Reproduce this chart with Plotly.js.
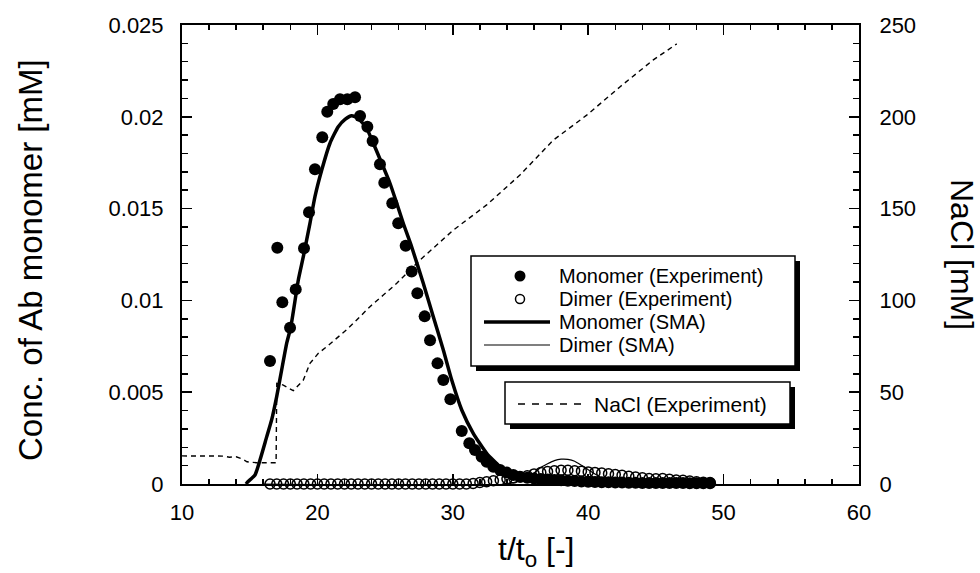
<!DOCTYPE html>
<html>
<head>
<meta charset="utf-8">
<script src="https://cdn.plot.ly/plotly-3.0.1.min.js"></script>
<style>html,body{margin:0;padding:0;background:#fff;}#chart{width:980px;height:573px;}</style>
</head>
<body>
<div id="chart"></div>
<script>
// ---- Data ----
// Monomer (Experiment): filled circles
const monoExpX = [16.50,17.04,17.41,17.98,18.40,19.01,19.38,19.82,20.36,20.73,21.17,21.67,22.21,22.78,23.15,23.69,24.08,24.62,24.94,25.53,25.97,26.52,26.96,27.38,27.92,28.32,28.87,29.30,29.82,30.66,31.22,31.64,32.13,32.50,32.99,33.49,33.98,34.47,34.96,35.5,36,36.5,37,37.5,38,38.5,39,39.5,40,40.5,41,41.5,42,42.5,43,43.5,44,44.5,45,45.5,46,46.5,47,47.5,48,48.5,49];
const monoExpY = [0.00670,0.01287,0.00990,0.00851,0.01060,0.01284,0.01480,0.01714,0.01888,0.02028,0.02070,0.02095,0.02095,0.02106,0.02004,0.01946,0.01868,0.01741,0.01641,0.01529,0.01420,0.01298,0.01157,0.01039,0.00913,0.00783,0.00657,0.00566,0.00461,0.00289,0.00222,0.00185,0.00149,0.00121,0.00094,0.00076,0.00062,0.00049,0.00040,0.00034,0.00030,0.00027,0.00025,0.00022,0.00020,0.00018,0.00016,0.00014,0.00012,0.00011,0.00010,0.00009,0.00008,0.00008,0.00007,0.00007,0.00006,0.00006,0.00006,0.00005,0.00005,0.00005,0.00005,0.00004,0.00004,0.00004,0.00004];

// Dimer (Experiment): open circles
const dimExpX = [16.5,17,17.5,18,18.5,19,19.5,20,20.5,21,21.5,22,22.5,23,23.5,24,24.5,25,25.5,26,26.5,27,27.5,28,28.5,29,29.5,30,30.5,31,31.5,32,32.5,33,33.5,34,34.5,35,35.5,36,36.5,37,37.5,38,38.5,39,39.5,40,40.5,41,41.5,42,42.5,43,43.5,44,44.5,45,45.5,46,46.5,47,47.5,48,48.5,49];
const dimExpY = [0,0,0,0,0,0,0,0,0,0,0,0,0,0,0,0,0,0,0,0,0,0,0,0,0,0,0,0,0,0,0.00003,0.00008,0.00012,0.00018,0.00022,0.00028,0.00033,0.00038,0.00045,0.00055,0.00062,0.00068,0.00072,0.00075,0.00075,0.00072,0.00070,0.00066,0.00063,0.00060,0.00056,0.00052,0.00047,0.00042,0.00038,0.00034,0.00030,0.00028,0.00030,0.00026,0.00022,0.00020,0.00016,0.00012,0.00010,0.00008];

// Monomer (SMA): thick line
const monoSmaX = [14.73,14.82,15.39,15.76,16.26,16.62,16.99,17.36,17.73,18.03,18.59,18.96,19.45,19.82,20.32,20.93,21.54,22.04,22.53,23.02,23.64,24.13,24.75,25.36,25.86,26.34,26.96,27.82,28.56,29.30,29.92,30.66,31.51,32.50,33.49,34.47,35.46,36.5,38,40,45,49];
const monoSmaY = [0,0.00009,0.00049,0.00131,0.00258,0.00349,0.00475,0.00621,0.00766,0.00853,0.01111,0.01238,0.01420,0.01565,0.01710,0.01856,0.01946,0.01986,0.02006,0.01992,0.01937,0.01856,0.01747,0.01638,0.01529,0.01420,0.01292,0.01093,0.00911,0.00730,0.00566,0.00403,0.00276,0.00167,0.00094,0.00049,0.00022,0.00010,0.00004,0.00001,0,0];

// Dimer (SMA): thin line
const dimSmaX = [16,34,35,36,36.5,37,37.5,38,38.5,39,39.5,40,40.5,41,42,43,44,49];
const dimSmaY = [0,0,0.0002,0.0006,0.0009,0.0011,0.00127,0.00135,0.00134,0.00124,0.00102,0.00078,0.00055,0.00035,0.00012,0.00004,0,0];

// NaCl (Experiment): dashed line, right axis [mM]
const naclX = [10,11,12,13,13.5,14,14.5,14.8,15.5,16.95,17.0,17.48,18.22,18.96,19.45,20.07,20.69,21.43,22.16,22.9,23.88,24.87,25.86,26.6,27.58,30.04,32.5,34.96,37.42,39.89,42.36,44.81,46.54];
const naclY = [15.3,15.2,15.0,15.2,14.6,14.8,13.5,12.1,11.6,11.6,54.8,53.9,50.8,56.6,65.7,71.2,74.8,79.4,84.0,89.3,96.6,102.9,109.3,114.8,122.0,138.3,152.0,168.3,187.3,200.9,216.4,231.0,239.7];

// Legend labels and axis texts
const legendLabels = ['Monomer (Experiment)','Dimer (Experiment)','Monomer (SMA)','Dimer (SMA)'];
const legend2Label = 'NaCl (Experiment)';
const yTitle = 'Conc. of Ab monomer [mM]';
const y2Title = 'NaCl [mM]';
const xTitle = 't/t<sub>o</sub> [-]';

// ---- Layout geometry (pixels) ----
const W = 980, H = 573;
const L = 182, R = 859, T = 25, B = 484;
const X = px => (px - L) / (R - L);
const Y = py => (B - py) / (B - T);
const FONT = '"Liberation Sans", Arial, Helvetica, sans-serif';

const traces = [
  {x: naclX, y: naclY, yaxis: 'y2', mode: 'lines', name: legend2Label,
   line: {color: '#000', width: 1.4, dash: '5px,4px'}, showlegend: false},
  {x: monoSmaX, y: monoSmaY, mode: 'lines', name: legendLabels[2],
   line: {color: '#000', width: 3.5, shape: 'spline', smoothing: 0.5}, showlegend: false},
  {x: dimSmaX, y: dimSmaY, mode: 'lines', name: legendLabels[3],
   line: {color: '#000', width: 1.2, shape: 'spline', smoothing: 0.5}, showlegend: false},
  {x: dimExpX, y: dimExpY, mode: 'markers', name: legendLabels[1], cliponaxis: false,
   marker: {symbol: 'circle-open', size: 10, color: '#000', line: {width: 1.5, color: '#000'}}, showlegend: false},
  {x: monoExpX, y: monoExpY, mode: 'markers', name: legendLabels[0], cliponaxis: false,
   marker: {symbol: 'circle', size: 12, color: '#000'}, showlegend: false}
];

const axisCommon = {
  showgrid: false, zeroline: false, showline: true, linecolor: '#000', linewidth: 2,
  ticks: 'inside', ticklen: 10, tickwidth: 1.5, tickcolor: '#000',
  tickfont: {family: FONT, size: 22, color: '#000'}
};

const shapes = [];
const annotations = [];

// legend box 1 (with drop shadow)
shapes.push({type: 'rect', xref: 'paper', yref: 'paper', layer: 'above',
  x0: X(476), x1: X(800), y0: Y(371), y1: Y(261), fillcolor: '#000', line: {width: 0}});
shapes.push({type: 'rect', xref: 'paper', yref: 'paper', layer: 'above',
  x0: X(471), x1: X(795), y0: Y(366), y1: Y(256), fillcolor: '#fff', line: {color: '#000', width: 1.5}});
// legend box 2 (with drop shadow)
shapes.push({type: 'rect', xref: 'paper', yref: 'paper', layer: 'above',
  x0: X(510), x1: X(795), y0: Y(429), y1: Y(387), fillcolor: '#000', line: {width: 0}});
shapes.push({type: 'rect', xref: 'paper', yref: 'paper', layer: 'above',
  x0: X(505), x1: X(790), y0: Y(424), y1: Y(382), fillcolor: '#fff', line: {color: '#000', width: 1.5}});

const rowY = [276, 299, 322, 345];
// symbols
shapes.push({type: 'circle', xref: 'paper', yref: 'paper', layer: 'above',
  x0: X(514.5), x1: X(525.5), y0: Y(rowY[0] + 5.5), y1: Y(rowY[0] - 5.5), fillcolor: '#000', line: {width: 0}});
shapes.push({type: 'circle', xref: 'paper', yref: 'paper', layer: 'above',
  x0: X(515.5), x1: X(524.5), y0: Y(rowY[1] + 4.5), y1: Y(rowY[1] - 4.5), fillcolor: 'rgba(0,0,0,0)', line: {color: '#000', width: 1.5}});
shapes.push({type: 'line', xref: 'paper', yref: 'paper', layer: 'above',
  x0: X(484), x1: X(550), y0: Y(rowY[2]), y1: Y(rowY[2]), line: {color: '#000', width: 3.5}});
shapes.push({type: 'line', xref: 'paper', yref: 'paper', layer: 'above',
  x0: X(484), x1: X(550), y0: Y(rowY[3]), y1: Y(rowY[3]), line: {color: '#000', width: 1.2}});
shapes.push({type: 'line', xref: 'paper', yref: 'paper', layer: 'above',
  x0: X(518), x1: X(586), y0: Y(404), y1: Y(404), line: {color: '#000', width: 1.5, dash: '7px,7px'}});

legendLabels.forEach((t, i) => annotations.push({
  text: t, xref: 'paper', yref: 'paper', x: X(557), y: Y(rowY[i]), xanchor: 'left', yanchor: 'middle',
  showarrow: false, font: {family: FONT, size: 20, color: '#000'}
}));
annotations.push({text: legend2Label, xref: 'paper', yref: 'paper', x: X(592), y: Y(404),
  xanchor: 'left', yanchor: 'middle', showarrow: false, font: {family: FONT, size: 21, color: '#000'}});

// axis titles
annotations.push({text: yTitle, xref: 'paper', yref: 'paper', x: X(30), y: Y(260), textangle: -90,
  xanchor: 'center', yanchor: 'middle', showarrow: false, font: {family: FONT, size: 33, color: '#000'}});
annotations.push({text: y2Title, xref: 'paper', yref: 'paper', x: X(962), y: Y(254), textangle: 90,
  xanchor: 'center', yanchor: 'middle', showarrow: false, font: {family: FONT, size: 32, color: '#000'}});
annotations.push({text: xTitle, xref: 'paper', yref: 'paper', x: X(536), y: Y(551),
  xanchor: 'center', yanchor: 'middle', showarrow: false, font: {family: FONT, size: 32, color: '#000'}});

const layout = {
  width: W, height: H,
  margin: {l: L, r: W - R, t: T, b: H - B, pad: 0},
  paper_bgcolor: '#fff', plot_bgcolor: '#fff',
  showlegend: false,
  font: {family: FONT, color: '#000'},
  xaxis: Object.assign({}, axisCommon, {
    range: [10, 60], dtick: 10, tick0: 10, mirror: 'ticks', ticklabelstandoff: 8,
    minor: {dtick: 2, ticks: 'inside', ticklen: 5, tickwidth: 1.5, tickcolor: '#000', showgrid: false}
  }),
  yaxis: Object.assign({}, axisCommon, {
    range: [0, 0.025], dtick: 0.005, tick0: 0, mirror: true, ticklabelstandoff: 12,
    minor: {dtick: 0.001, ticks: 'inside', ticklen: 6, tickwidth: 1.5, tickcolor: '#000', showgrid: false}
  }),
  yaxis2: Object.assign({}, axisCommon, {
    range: [0, 250], dtick: 50, tick0: 0, overlaying: 'y', side: 'right', ticklabelstandoff: 14,
    minor: {dtick: 10, ticks: 'inside', ticklen: 6, tickwidth: 1.5, tickcolor: '#000', showgrid: false}
  }),
  shapes: shapes,
  annotations: annotations
};

Plotly.newPlot('chart', traces, layout, {displayModeBar: false, staticPlot: true});
</script>
</body>
</html>
